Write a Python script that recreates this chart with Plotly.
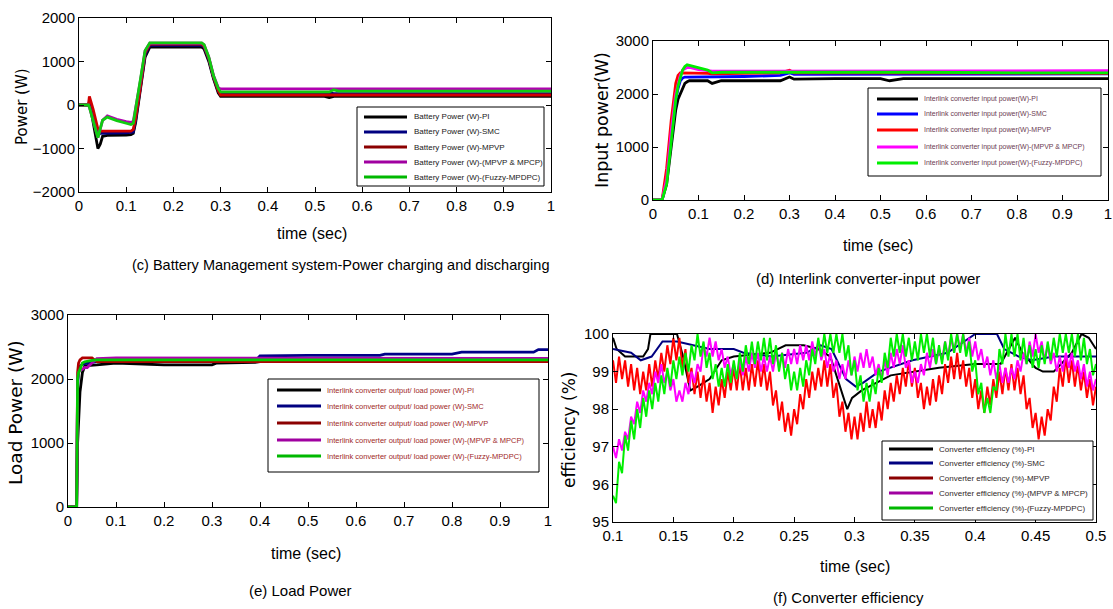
import numpy as np
import plotly.graph_objects as go

# ---------------- (c) Battery power ----------------
t_c = [0, 0.02, 0.022, 0.03, 0.04, 0.045, 0.05, 0.06, 0.08, 0.1, 0.11, 0.115, 0.12, 0.13, 0.14,
       0.15, 0.26, 0.265, 0.275, 0.285, 0.295, 0.3, 0.4, 0.52, 0.53, 0.54, 0.55, 0.7, 1.0]
bat_pi = [0, 0, 80, -400, -1000, -900, -720, -700, -700, -690, -680, -650, -400, 300, 1100,
          1330, 1330, 1290, 1000, 600, 280, 200, 200, 200, 170, 200, 200, 200, 200]
bat_smc = [0, 0, 50, -300, -700, -650, -650, -650, -650, -640, -630, -620, -350, 350, 1150,
           1370, 1370, 1330, 1050, 630, 320, 250, 250, 250, 280, 260, 260, 260, 260]
bat_mpvp = [0, 0, 200, -100, -550, -600, -600, -600, -600, -600, -600, -560, -300, 400, 1200,
            1400, 1400, 1350, 1070, 650, 330, 230, 230, 230, 230, 230, 230, 230, 230]
bat_mpcp = [0, 0, -50, -350, -750, -550, -350, -250, -330, -380, -400, -380, -100, 550, 1250,
            1420, 1420, 1380, 1100, 680, 400, 370, 370, 370, 370, 370, 370, 370, 370]
bat_fuzzy = [0, 0, -50, -350, -750, -550, -350, -280, -360, -420, -450, -420, -100, 550, 1250,
             1430, 1430, 1390, 1100, 670, 380, 300, 300, 300, 300, 350, 320, 320, 320]

# ---------------- (d) Interlink converter input power ----------------
t_d = [0, 0.02, 0.03, 0.04, 0.05, 0.055, 0.06, 0.065, 0.07, 0.075, 0.08, 0.09, 0.1, 0.12, 0.13,
       0.15, 0.2, 0.28, 0.3, 0.31, 0.4, 0.5, 0.52, 0.55, 0.6, 0.8, 1.0]
in_pi = [0, 0, 300, 1000, 1700, 1900, 2000, 2100, 2200, 2230, 2250, 2250, 2250, 2250, 2200,
         2250, 2250, 2250, 2320, 2280, 2290, 2290, 2250, 2290, 2290, 2290, 2290]
in_smc = [0, 0, 400, 1200, 1900, 2100, 2250, 2300, 2320, 2320, 2320, 2320, 2320, 2330, 2330,
          2330, 2330, 2350, 2400, 2370, 2370, 2380, 2380, 2380, 2380, 2380, 2380]
in_mpvp = [0, 0, 600, 1500, 2200, 2350, 2400, 2400, 2390, 2390, 2390, 2390, 2390, 2390, 2380,
           2380, 2390, 2400, 2450, 2400, 2400, 2400, 2400, 2400, 2400, 2390, 2390]
in_mpcp = [0, 0, 400, 1300, 2000, 2200, 2350, 2450, 2480, 2500, 2500, 2480, 2460, 2440, 2430,
           2430, 2430, 2430, 2440, 2430, 2430, 2430, 2430, 2430, 2440, 2440, 2440]
in_fuzzy = [0, 0, 300, 1100, 1900, 2150, 2300, 2450, 2520, 2550, 2540, 2520, 2500, 2450, 2400,
            2410, 2410, 2410, 2420, 2420, 2420, 2420, 2420, 2410, 2410, 2400, 2400]

# ---------------- (e) Load power ----------------
t_e = [0, 0.018, 0.02, 0.022, 0.025, 0.03, 0.035, 0.04, 0.05, 0.06, 0.1, 0.2, 0.3, 0.31, 0.39,
       0.4, 0.5, 0.65, 0.66, 0.8, 0.82, 0.97, 0.98, 1.0]
ld_pi = [0, 0, 1000, 1400, 1800, 2100, 2200, 2210, 2220, 2220, 2250, 2220, 2220, 2250, 2260,
         2270, 2280, 2280, 2280, 2280, 2280, 2280, 2280, 2280]
ld_smc = [0, 0, 1900, 2100, 2200, 2230, 2240, 2250, 2260, 2270, 2270, 2270, 2280, 2280, 2280,
          2360, 2370, 2370, 2390, 2390, 2420, 2420, 2460, 2460]
ld_mpvp = [0, 0, 2100, 2250, 2300, 2330, 2330, 2330, 2330, 2270, 2270, 2270, 2270, 2270, 2280,
           2280, 2270, 2270, 2270, 2270, 2270, 2270, 2270, 2270]
ld_mpcp = [0, 0, 2000, 2100, 2150, 2150, 2180, 2180, 2250, 2320, 2330, 2330, 2330, 2330, 2330,
           2330, 2330, 2330, 2330, 2330, 2330, 2330, 2320, 2320]
ld_fuzzy = [0, 0, 2000, 2100, 2150, 2250, 2270, 2280, 2290, 2300, 2300, 2300, 2300, 2300, 2300,
            2300, 2300, 2300, 2300, 2300, 2300, 2300, 2300, 2300]

# ---------------- (f) Converter efficiency ----------------
t_pi_f = [0.100, 0.103, 0.110, 0.125, 0.129, 0.131, 0.153, 0.158, 0.164, 0.170, 0.180, 0.190,
          0.200, 0.230, 0.243, 0.258, 0.270, 0.280, 0.287, 0.294, 0.298, 0.306, 0.330, 0.370,
          0.400, 0.407, 0.421, 0.433, 0.439, 0.450, 0.456, 0.465, 0.480, 0.488, 0.494, 0.500]
eff_pi = [99.9, 99.6, 99.4, 99.4, 99.6, 100.0, 100.0, 99.4, 98.5, 98.6, 98.8, 99.3,
          99.4, 99.5, 99.7, 99.7, 99.6, 99.4, 98.7, 98.0, 98.3, 98.5, 98.9, 99.1,
          99.2, 99.2, 99.2, 99.9, 99.5, 99.1, 99.0, 99.0, 99.5, 100.0, 99.9, 99.6]
t_smc_f = [0.100, 0.115, 0.123, 0.132, 0.141, 0.153, 0.180, 0.200, 0.208, 0.231, 0.260, 0.272,
           0.281, 0.287, 0.293, 0.301, 0.307, 0.320, 0.348, 0.377, 0.400, 0.418, 0.424, 0.436,
           0.447, 0.465, 0.500]
eff_smc = [99.6, 99.5, 99.3, 99.4, 99.8, 99.8, 99.6, 99.6, 99.5, 99.4, 99.5, 99.7,
           99.6, 99.2, 98.8, 98.6, 98.7, 99.0, 99.3, 99.5, 100.0, 100.0, 99.6, 99.4,
           99.3, 99.4, 99.4]
# sample times 0.1 ... 0.5 s every 2.5 ms
t_f = list(np.round(np.linspace(0.1, 0.5, 161), 4))
eff_mpvp = [
    99.3, 98.7, 99.4, 98.8, 99.3, 98.6, 99.2, 98.5, 99.1, 98.4,
    99.0, 98.5, 99.2, 98.6, 99.3, 98.8, 99.5, 99.0, 99.7, 99.2,
    99.9, 99.3, 99.9, 99.1, 99.6, 98.7, 99.1, 98.4, 99.0, 98.3,
    98.9, 98.2, 98.7, 97.9, 98.6, 98.1, 98.8, 98.3, 99.0, 98.5,
    99.1, 98.5, 99.2, 98.5, 99.1, 98.5, 99.2, 98.6, 99.3, 98.6,
    99.2, 98.5, 99.0, 98.1, 98.5, 97.7, 98.2, 97.4, 97.9, 97.3,
    98.0, 97.6, 98.4, 98.0, 98.8, 98.3, 99.0, 98.5, 99.1, 98.6,
    99.3, 98.6, 99.2, 98.3, 98.7, 97.8, 98.2, 97.4, 97.9, 97.2,
    97.8, 97.2, 97.9, 97.4, 98.2, 97.5, 98.0, 97.5, 98.2, 97.7,
    98.5, 98.0, 98.7, 98.2, 98.9, 98.4, 99.1, 98.6, 99.3, 98.6,
    99.1, 98.3, 98.7, 98.0, 98.6, 98.1, 98.8, 98.2, 98.9, 98.4,
    99.2, 98.7, 99.4, 98.8, 99.5, 98.8, 99.3, 98.6, 99.1, 98.3,
    98.8, 98.0, 98.5, 97.9, 98.6, 98.1, 98.8, 98.3, 99.0, 98.4,
    99.1, 98.5, 99.2, 98.5, 99.1, 98.4, 98.9, 98.0, 98.3, 97.5,
    97.9, 97.2, 97.8, 97.3, 98.0, 97.7, 98.6, 98.2, 99.1, 98.6,
    99.4, 98.7, 99.3, 98.6, 99.2, 98.5, 99.0, 98.3, 98.8, 98.1,
    98.6]
eff_mpcp = [
    97.0, 96.7, 97.2, 96.9, 97.4, 97.2, 97.8, 97.6, 98.2, 97.9,
    98.5, 98.2, 98.7, 98.4, 99.0, 98.7, 99.2, 98.7, 99.0, 98.5,
    98.8, 98.2, 98.5, 98.2, 98.7, 98.4, 99.0, 98.7, 99.2, 99.0,
    99.7, 99.4, 99.9, 99.4, 99.8, 99.3, 99.6, 99.1, 99.4, 98.9,
    99.2, 98.8, 99.3, 98.9, 99.4, 99.0, 99.5, 99.1, 99.5, 99.0,
    99.4, 99.0, 99.4, 99.0, 99.5, 99.1, 99.5, 99.1, 99.6, 99.2,
    99.6, 99.2, 99.7, 99.3, 99.7, 99.3, 99.8, 99.4, 99.8, 99.3,
    99.6, 99.1, 99.5, 99.0, 99.3, 98.8, 99.2, 98.8, 99.3, 98.9,
    99.4, 99.0, 99.5, 99.1, 99.6, 99.1, 99.4, 98.9, 99.2, 98.8,
    99.3, 98.9, 99.5, 99.1, 99.6, 99.2, 99.7, 99.1, 99.3, 98.7,
    99.0, 98.7, 99.2, 98.9, 99.5, 99.1, 99.6, 99.2, 99.6, 99.3,
    99.8, 99.4, 99.9, 99.5, 100.0, 99.6, 100.0, 99.5, 99.9, 99.4,
    99.8, 99.3, 99.6, 99.1, 99.4, 98.9, 99.3, 98.8, 99.2, 98.7,
    99.1, 98.7, 99.1, 98.8, 99.3, 99.0, 99.5, 99.2, 99.8, 99.4,
    100.0, 99.5, 99.8, 99.3, 99.7, 99.2, 99.5, 99.0, 99.4, 99.0,
    99.5, 99.1, 99.5, 99.0, 99.3, 98.8, 99.2, 98.6, 99.0, 98.5,
    98.8]
eff_fuzzy = [
    95.7, 95.5, 96.6, 96.3, 97.3, 96.9, 97.7, 97.2, 98.0, 97.5,
    98.3, 97.8, 98.5, 98.0, 98.7, 98.2, 98.9, 98.4, 99.1, 98.6,
    99.3, 98.8, 99.4, 98.9, 99.5, 99.0, 99.7, 99.3, 100.0, 99.4,
    99.8, 99.1, 99.5, 98.8, 99.2, 98.6, 99.1, 98.6, 99.2, 98.7,
    99.3, 98.8, 99.5, 99.0, 99.7, 99.2, 99.8, 99.2, 99.8, 99.3,
    99.9, 99.3, 99.9, 99.2, 99.7, 99.0, 99.5, 98.8, 99.2, 98.5,
    99.0, 98.5, 99.1, 98.6, 99.3, 98.9, 99.6, 99.2, 99.9, 99.4,
    100.0, 99.5, 100.0, 99.5, 100.0, 99.5, 100.0, 99.3, 99.7, 98.9,
    99.3, 98.5, 98.9, 98.2, 98.7, 98.2, 98.8, 98.4, 99.1, 98.7,
    99.5, 99.1, 99.9, 99.4, 100.0, 99.5, 100.0, 99.4, 99.9, 99.3,
    99.8, 99.3, 100.0, 99.5, 100.0, 99.4, 99.9, 99.2, 99.7, 99.2,
    99.8, 99.3, 100.0, 99.5, 100.0, 99.5, 100.0, 99.4, 99.8, 99.0,
    99.3, 98.4, 98.7, 97.9, 98.3, 97.9, 98.6, 98.5, 99.6, 99.2,
    100.0, 99.4, 100.0, 99.4, 100.0, 99.3, 99.9, 99.2, 99.7, 99.1,
    99.6, 99.1, 99.7, 99.2, 99.8, 99.3, 99.9, 99.4, 100.0, 99.5,
    100.0, 99.5, 100.0, 99.4, 100.0, 99.3, 99.9, 99.2, 99.6, 98.9,
    99.2]

suffixes = ["PI", "SMC", "MPVP", "(MPVP & MPCP)", "(Fuzzy-MPDPC)"]
names_c = ["Battery Power (W)-" + s for s in suffixes]
names_d = ["Interlink converter input power(W)-" + s for s in suffixes]
names_e = ["Interlink converter output/ load power (W)-" + s for s in suffixes]
names_f = ["Converter efficiency (%)-" + s for s in suffixes]

tick_1 = [0, 0.1, 0.2, 0.3, 0.4, 0.5, 0.6, 0.7, 0.8, 0.9, 1]
tick_1_txt = ["0", "0.1", "0.2", "0.3", "0.4", "0.5", "0.6", "0.7", "0.8", "0.9", "1"]
tick_f = [0.1, 0.15, 0.2, 0.25, 0.3, 0.35, 0.4, 0.45, 0.5]
tick_f_txt = ["0.1", "0.15", "0.2", "0.25", "0.3", "0.35", "0.4", "0.45", "0.5"]

col_c = ["#000000", "#000080", "#d00000", "#b000b0", "#10cc10"]
col_d = ["#000000", "#0000ff", "#ff0000", "#ff00ff", "#00ee00"]
col_e = ["#000000", "#000088", "#b00000", "#b000b0", "#00cc00"]
col_f = ["#000000", "#000080", "#ff0000", "#ff00ff", "#00ee00"]
leg_dark = ["#000000", "#000080", "#8b0000", "#a000a0", "#00b800"]

SANS = "Liberation Sans, Arial, sans-serif"
WIDE = "DejaVu Sans, Verdana, sans-serif"

fig = go.Figure()

def add(xs, ys, name, color, ax, width=2.8):
    fig.add_trace(go.Scatter(x=xs, y=ys, mode="lines", name=name,
                             line=dict(color=color, width=width),
                             xaxis="x" + ax, yaxis="y" + ax))

for n, ys, c in zip(names_c, [bat_pi, bat_smc, bat_mpvp, bat_mpcp, bat_fuzzy], col_c):
    add(t_c, ys, n, c, "")
for n, ys, c in zip(names_d, [in_pi, in_smc, in_mpvp, in_mpcp, in_fuzzy], col_d):
    add(t_d, ys, n, c, "2")
for n, ys, c in zip(names_e, [ld_pi, ld_smc, ld_mpvp, ld_mpcp, ld_fuzzy], col_e):
    add(t_e, ys, n, c, "3")
fx = [t_pi_f, t_smc_f, t_f, t_f, t_f]
fy = [eff_pi, eff_smc, eff_mpvp, eff_mpcp, eff_fuzzy]
for n, xs, ys, c in zip(names_f, fx, fy, col_f):
    add(xs, ys, n, c, "4", width=2)

W, H = 1113, 609
def px(x): return x / W
def py(y): return 1 - y / H

axis_common = dict(showline=True, linecolor="black", linewidth=1, mirror="ticks",
                   ticks="inside", ticklen=5, tickcolor="black", showgrid=False,
                   zeroline=False, tickfont=dict(family=SANS, size=15, color="black"))

fig.update_layout(
    width=W, height=H, margin=dict(l=0, r=0, t=0, b=0, pad=0, autoexpand=False), showlegend=False,
    paper_bgcolor="white", plot_bgcolor="white",
    xaxis=dict(domain=[px(79), px(551)], range=[0, 1], tickvals=tick_1, ticktext=tick_1_txt,
               anchor="y", **axis_common),
    yaxis=dict(domain=[py(192), py(18)], range=[-2000, 2000], tickvals=[-2000, -1000, 0, 1000, 2000],
               anchor="x", **axis_common),
    xaxis2=dict(domain=[px(653), px(1108)], range=[0, 1], tickvals=tick_1, ticktext=tick_1_txt,
                anchor="y2", **axis_common),
    yaxis2=dict(domain=[py(200), py(41)], range=[0, 3000], tickvals=[0, 1000, 2000, 3000],
                anchor="x2", **axis_common),
    xaxis3=dict(domain=[px(68), px(548)], range=[0, 1], tickvals=tick_1, ticktext=tick_1_txt,
                anchor="y3", **axis_common),
    yaxis3=dict(domain=[py(507), py(315)], range=[0, 3000], tickvals=[0, 1000, 2000, 3000],
                anchor="x3", **axis_common),
    xaxis4=dict(domain=[px(613), px(1096)], range=[0.1, 0.5], tickvals=tick_f, ticktext=tick_f_txt,
                anchor="y4", **axis_common),
    yaxis4=dict(domain=[py(522), py(334)], range=[95, 100], tickvals=[95, 96, 97, 98, 99, 100],
                anchor="x4", **axis_common),
)

def text(x, y, s, size, family=SANS, angle=0, anchor="center", color="black"):
    fig.add_annotation(x=px(x), y=py(y), xref="paper", yref="paper", text=s, showarrow=False,
                       textangle=angle, xanchor=anchor, yanchor="middle",
                       font=dict(family=family, size=size, color=color))

# legend boxes (drawn in paper coordinates, like the MATLAB legend boxes)
def legend_box(box, rows, line_x, text_x, names, colors, fsize, fcolor):
    x0, y0, x1, y1 = box
    fig.add_shape(type="rect", xref="paper", yref="paper", x0=px(x0), x1=px(x1),
                  y0=py(y1), y1=py(y0), fillcolor="white", line=dict(color="black", width=1),
                  layer="above")
    for yy, n, c in zip(rows, names, colors):
        fig.add_shape(type="line", xref="paper", yref="paper", x0=px(line_x[0]), x1=px(line_x[1]),
                      y0=py(yy), y1=py(yy), line=dict(color=c, width=3), layer="above")
        text(text_x, yy, n, fsize, SANS, 0, "left", fcolor)

legend_box((357, 107, 544, 186), [117, 132, 147, 162, 177], (364, 407), 412,
           names_c, leg_dark, 8, "#202020")
legend_box((868, 88, 1101, 176), [99, 114, 130, 147, 163], (877, 918), 922,
           names_d, col_d, 7, "#6b3a52")
legend_box((268, 379, 539, 472), [390, 406, 423, 440, 456], (277, 321), 325,
           names_e, leg_dark, 7.5, "#a02828")
legend_box((882, 441, 1093, 520), [449, 463, 478, 493, 508], (889, 933), 937,
           names_f, leg_dark, 8, "#302828")

# axis titles
text(312, 234, "time (sec)", 16)
text(878, 246, "time (sec)", 16)
text(306, 553, "time (sec)", 16)
text(855, 566, "time (sec)", 16)
text(22, 107, "Power (W)", 15, WIDE, -90)
text(602, 120, "Input power(W)", 17.5, WIDE, -90)
text(16, 413, "Load Power (W)", 18.5, WIDE, -90)
text(569, 430, "efficiency (%)", 17, WIDE, -90)
# captions
text(340, 265, "(c) Battery Management system-Power charging and discharging", 14.5)
text(868, 278, "(d) Interlink converter-input power", 15)
text(300, 590, "(e) Load Power", 15)
text(848, 597, "(f) Converter efficiency", 15)

fig.write_html("out.html", config={"displayModeBar": False},
               post_script="document.body.style.margin='0';document.body.style.overflow='hidden';")
